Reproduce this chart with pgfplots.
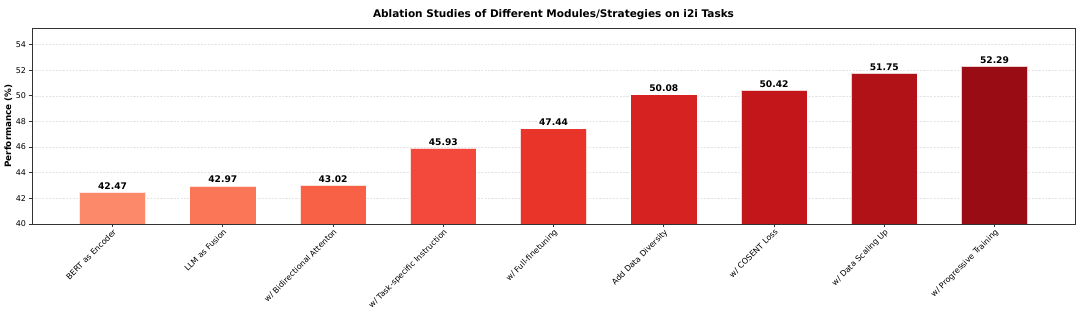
\documentclass[border=0pt]{standalone}
\usepackage{pgfplots}
\pgfplotsset{compat=1.18}
\usepackage{fontspec}
\setmainfont{DejaVu Sans}
\usetikzlibrary{calc}
\definecolor{c1}{HTML}{FC8A6A}
\definecolor{c2}{HTML}{FB7656}
\definecolor{c3}{HTML}{F96146}
\definecolor{c4}{HTML}{F3493D}
\definecolor{c5}{HTML}{E83429}
\definecolor{c6}{HTML}{D62322}
\definecolor{c7}{HTML}{C3161B}
\definecolor{c8}{HTML}{B01217}
\definecolor{c9}{HTML}{990C13}
\begin{document}
\begin{tikzpicture}
\begin{axis}[
  scale only axis,
  width=1390pt, height=261pt,
  xmin=-0.73, xmax=8.73,
  ymin=40, ymax=55.29,
  ytick={40,42,44,46,48,50,52,54},
  xtick={0,1,2,3,4,5,6,7,8},
  xticklabels={BERT as Encoder, LLM as Fusion, w/ Bidirectional Attenton, w/ Task-specific Instruction, w/ Full-finetuning, Add Data Diversity, w/ COSENT Loss, w/ Data Scaling Up, w/ Progressive Training},
  xticklabel style={rotate=45, anchor=north east, font=\fontsize{10.6}{12}\selectfont, inner sep=1pt},
  yticklabel style={font=\fontsize{10.6}{12}\selectfont},
  /pgf/number format/assume math mode=true,
  tick align=outside,
  xtick pos=bottom, ytick pos=left,
  major tick length=4.5pt,
  tick style={black!80, line width=0.8pt},
  axis line style={black!80, line width=0.8pt},
  ymajorgrids,
  grid style={dash pattern=on 3pt off 1.5pt, black!10, line width=0.6pt},
  ylabel={\bfseries Performance (\%)},
  ylabel style={font=\fontsize{11.7}{13}\selectfont, yshift=-2pt},
  title={\bfseries Ablation Studies of Different Modules/Strategies on i2i Tasks},
  title style={font=\fontsize{14}{16}\selectfont, yshift=2pt},
  ybar, bar width=0.6, bar shift=0pt,
  every axis plot/.append style={draw=white, draw opacity=0.8, line width=0.6pt},
  nodes near coords,
  nodes near coords style={font=\fontsize{12.2}{14}\selectfont\bfseries, text=black, /pgf/number format/.cd, fixed, precision=2, fixed zerofill, assume math mode=true},
  clip=true,
]
\addplot[fill=c1] coordinates {(0,42.47)};
\addplot[fill=c2] coordinates {(1,42.97)};
\addplot[fill=c3] coordinates {(2,43.02)};
\addplot[fill=c4] coordinates {(3,45.93)};
\addplot[fill=c5] coordinates {(4,47.44)};
\addplot[fill=c6] coordinates {(5,50.08)};
\addplot[fill=c7] coordinates {(6,50.42)};
\addplot[fill=c8] coordinates {(7,51.75)};
\addplot[fill=c9] coordinates {(8,52.29)};
\end{axis}
\pgfresetboundingbox
\path[use as bounding box] ($(current axis.south west)+(-42.7pt,-128pt)$) rectangle ($(current axis.north east)+(6.7pt,37.3pt)$);
\end{tikzpicture}
\end{document}
